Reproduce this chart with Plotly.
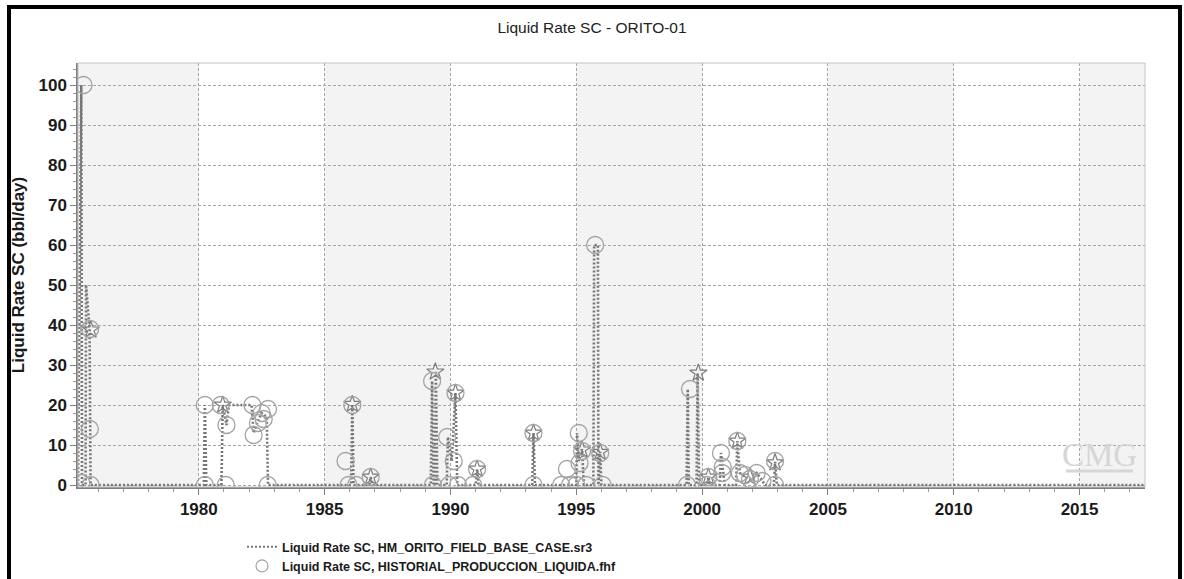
import plotly.graph_objects as go

# Simulated liquid rate (HM_ORITO_FIELD_BASE_CASE.sr3): decimal year, bbl/day
sim_t = [1975.20, 1975.33, 1975.36, 1975.50, 1975.52, 1975.66, 1975.70,
         1980.20, 1980.24, 1980.30, 1980.90, 1980.95, 1981.10, 1981.20, 1982.10,
         1982.18, 1982.35, 1982.50, 1982.70, 1982.75,
         1986.05, 1986.10, 1986.15, 1986.78, 1986.83, 1986.90,
         1989.22, 1989.27, 1989.33, 1989.38, 1989.42, 1989.48,
         1989.85, 1989.90, 1990.05, 1990.20, 1990.27,
         1991.00, 1991.06, 1991.12,
         1993.25, 1993.30, 1993.36,
         1995.00, 1995.03, 1995.10, 1995.23, 1995.30,
         1995.68, 1995.71, 1995.86, 1995.88, 1995.95, 1996.00,
         1999.38, 1999.43, 1999.47, 1999.78, 1999.82, 1999.88,
         2000.20, 2000.25, 2000.30,
         2000.70, 2000.75, 2000.82, 2000.90,
         2001.35, 2001.40, 2001.50, 2001.70, 2001.90, 2002.17, 2002.40, 2002.50,
         2002.85, 2002.90, 2002.97,
         2017.60]
sim_v = [0, 100, 0, 0, 50, 39, 0,
         0, 20, 0, 0, 20, 15, 20, 20,
         13, 16, 18, 17, 0,
         0, 20.2, 0, 0, 2, 0,
         0, 26, 0, 0, 28.3, 0,
         0, 12, 6, 23, 0,
         0, 4, 0,
         0, 13, 0,
         0, 13, 6, 9, 0,
         0, 60, 60, 0, 8.3, 0,
         0, 24, 0, 0, 28, 0,
         0, 2, 0,
         0, 8, 4, 0,
         0, 11, 3, 2, 1.5, 3, 1, 0,
         0, 5.8, 0,
         0]

# Historical liquid production (HISTORIAL_PRODUCCION_LIQUIDA.fhf)
hist_t = [1975.33, 1975.42, 1975.67, 1975.68, 1975.70,
          1980.24, 1980.24, 1980.87, 1981.10, 1981.07,
          1982.13, 1982.18, 1982.35, 1982.50, 1982.58, 1982.75, 1982.74,
          1985.83, 1985.95, 1986.10, 1986.25, 1986.83,
          1989.27, 1989.30, 1989.87, 1989.95, 1990.13, 1990.20, 1990.30, 1990.90, 1991.06,
          1993.30, 1993.30,
          1994.40, 1994.63, 1994.75, 1995.00, 1995.10, 1995.13, 1995.23, 1995.40,
          1995.75, 1995.95, 1996.05,
          1999.40, 1999.52, 2000.20, 2000.25,
          2000.75, 2000.80, 2000.82, 2001.40, 2001.50, 2001.70, 2001.90,
          2002.17, 2002.40, 2002.90, 2002.90]
hist_v = [0.5, 100, 14, 39, 0,
          20, 0, 20, 15, 0,
          20, 12.5, 15.5, 18, 16.5, 19, 0,
          6, 0, 20, 0, 2,
          26, 0, 12, 0, 6, 23, 0, 0, 4,
          13, 0,
          0, 4, 0, 0, 13, 5.5, 8.5, 0,
          60, 8, 0,
          0, 24, 0, 2,
          8, 3, 4.5, 11, 3, 2.5, 1.5,
          3, 1, 6, 0]

# Report-time markers on the simulated curve
star_t = [1975.71, 1980.95, 1986.10, 1986.83, 1989.40, 1990.20, 1991.06,
          1993.30, 1995.23, 1995.95, 1999.85, 2000.25, 2001.40, 2001.90,
          2002.90]
star_v = [38.8, 20, 20.2, 2, 28.3, 23, 4,
          13, 8.8, 8.2, 28, 2, 11, 2,
          5.6]

# Alternate shaded year bands
band_x0 = [1975.2, 1985, 1995, 2005, 2015]
band_x1 = [1980, 1990, 2000, 2010, 2017.6]

x_tick_vals = [1980, 1985, 1990, 1995, 2000, 2005, 2010, 2015]

SIM_NAME = "Liquid Rate SC, HM_ORITO_FIELD_BASE_CASE.sr3"
HIST_NAME = "Liquid Rate SC, HISTORIAL_PRODUCCION_LIQUIDA.fhf"

W, H = 1184, 579
L, R, T, B = 78, 39, 63, 92
PW, PH = W - L - R, H - T - B


def px_x(p):
    return (p - L) / PW


def px_y(p):
    return (H - B - p) / PH


FONT = "Liberation Sans, Arial, sans-serif"
SIM_LINE = dict(color="#777777", width=2.6, dash="2px,2px")
HIST_COLOR = "#a3a3a3"

fig = go.Figure()

fig.add_trace(go.Scatter(
    x=sim_t, y=sim_v, mode="lines", name=SIM_NAME, legendgroup="sim",
    showlegend=False, line=SIM_LINE,
))
fig.add_trace(go.Scatter(
    x=star_t, y=star_v, mode="markers", showlegend=False, legendgroup="sim",
    marker=dict(symbol="star-open", size=13, color="#7c7c7c",
                line=dict(width=1.2, color="#7c7c7c")),
))
fig.add_trace(go.Scatter(
    x=hist_t, y=hist_v, mode="markers", name=HIST_NAME, legendgroup="hist",
    showlegend=False,
    marker=dict(symbol="circle-open", size=17, color=HIST_COLOR,
                line=dict(width=1.3, color=HIST_COLOR)),
))

# Legend keys with compact symbols
fig.add_trace(go.Scatter(
    x=[None], y=[None], mode="lines", name=SIM_NAME, legendgroup="sim",
    line=dict(color="#777777", width=2, dash="2px,2px"),
))
fig.add_trace(go.Scatter(
    x=[None], y=[None], mode="markers", name=HIST_NAME, legendgroup="hist",
    marker=dict(symbol="circle-open", size=12, color=HIST_COLOR,
                line=dict(width=1.2, color=HIST_COLOR)),
))

shapes = []
for a, b in zip(band_x0, band_x1):
    shapes.append(dict(type="rect", xref="x", yref="paper", x0=a, x1=b, y0=0, y1=1,
                       fillcolor="#f3f3f3", line=dict(width=0), layer="below"))
# plot-area frame
shapes.append(dict(type="rect", xref="paper", yref="paper", x0=0, x1=1, y0=0, y1=1,
                   line=dict(color="#c4c4c4", width=1)))
# outer black frame
shapes.append(dict(type="rect", xref="paper", yref="paper",
                   x0=px_x(9), x1=px_x(1180), y0=px_y(620), y1=px_y(7),
                   line=dict(color="black", width=4)))
# watermark underline
shapes.append(dict(type="line", xref="paper", yref="paper",
                   x0=px_x(1066), x1=px_x(1133), y0=px_y(471), y1=px_y(471),
                   line=dict(color="#d6d6d6", width=3)))

fig.update_layout(
    width=W, height=H,
    margin=dict(l=L, r=R, t=T, b=B, autoexpand=False),
    paper_bgcolor="white", plot_bgcolor="white",
    font=dict(family=FONT, color="#1a1a1a"),
    title=dict(text="Liquid Rate SC - ORITO-01", x=0.5, xref="container",
               y=1 - 28 / H, yanchor="middle", xanchor="center",
               font=dict(size=15.5, family=FONT, color="#222222")),
    shapes=shapes,
    showlegend=True,
    legend=dict(x=px_x(242), xref="paper", y=1 - 532 / H, yref="container",
                xanchor="left", yanchor="top",
                bgcolor="rgba(0,0,0,0)", borderwidth=0, tracegroupgap=0,
                font=dict(size=12.5, family=FONT, color="#1a1a1a", weight="bold")),
    annotations=[dict(text="CMG", xref="paper", yref="paper",
                      x=px_x(1099), y=px_y(455), xanchor="center", yanchor="middle",
                      showarrow=False,
                      font=dict(size=33, family="Liberation Serif, serif", color="#d6d6d6"))],
)

fig.update_xaxes(
    range=[1975.2, 2017.6], tickvals=x_tick_vals, ticks="outside", ticklen=6,
    tickcolor="#808080", tickwidth=1,
    tickfont=dict(size=17, family=FONT, color="#1a1a1a", weight="bold"),
    showgrid=True, gridcolor="#a6a6a6", gridwidth=1, griddash="3px,2px",
    showline=True, linecolor="#808080", linewidth=1.5, zeroline=False,
    minor=dict(tick0=1975, dtick=1, ticks="outside", ticklen=3,
               tickcolor="#9a9a9a", showgrid=False),
)
fig.update_yaxes(
    range=[-0.5, 105.5], dtick=10, tick0=0, ticks="outside", ticklen=6,
    tickcolor="#808080", tickwidth=1,
    tickfont=dict(size=17, family=FONT, color="#1a1a1a", weight="bold"),
    showgrid=True, gridcolor="#a6a6a6", gridwidth=1, griddash="3px,2px",
    showline=True, linecolor="#808080", linewidth=1.5, zeroline=False,
    title=dict(text="Liquid Rate SC (bbl/day)", standoff=10,
               font=dict(size=17, family=FONT, color="#1a1a1a", weight="bold")),
    minor=dict(tick0=0, dtick=2, ticks="outside", ticklen=3,
               tickcolor="#9a9a9a", showgrid=False),
)

fig.write_html("out.html")
